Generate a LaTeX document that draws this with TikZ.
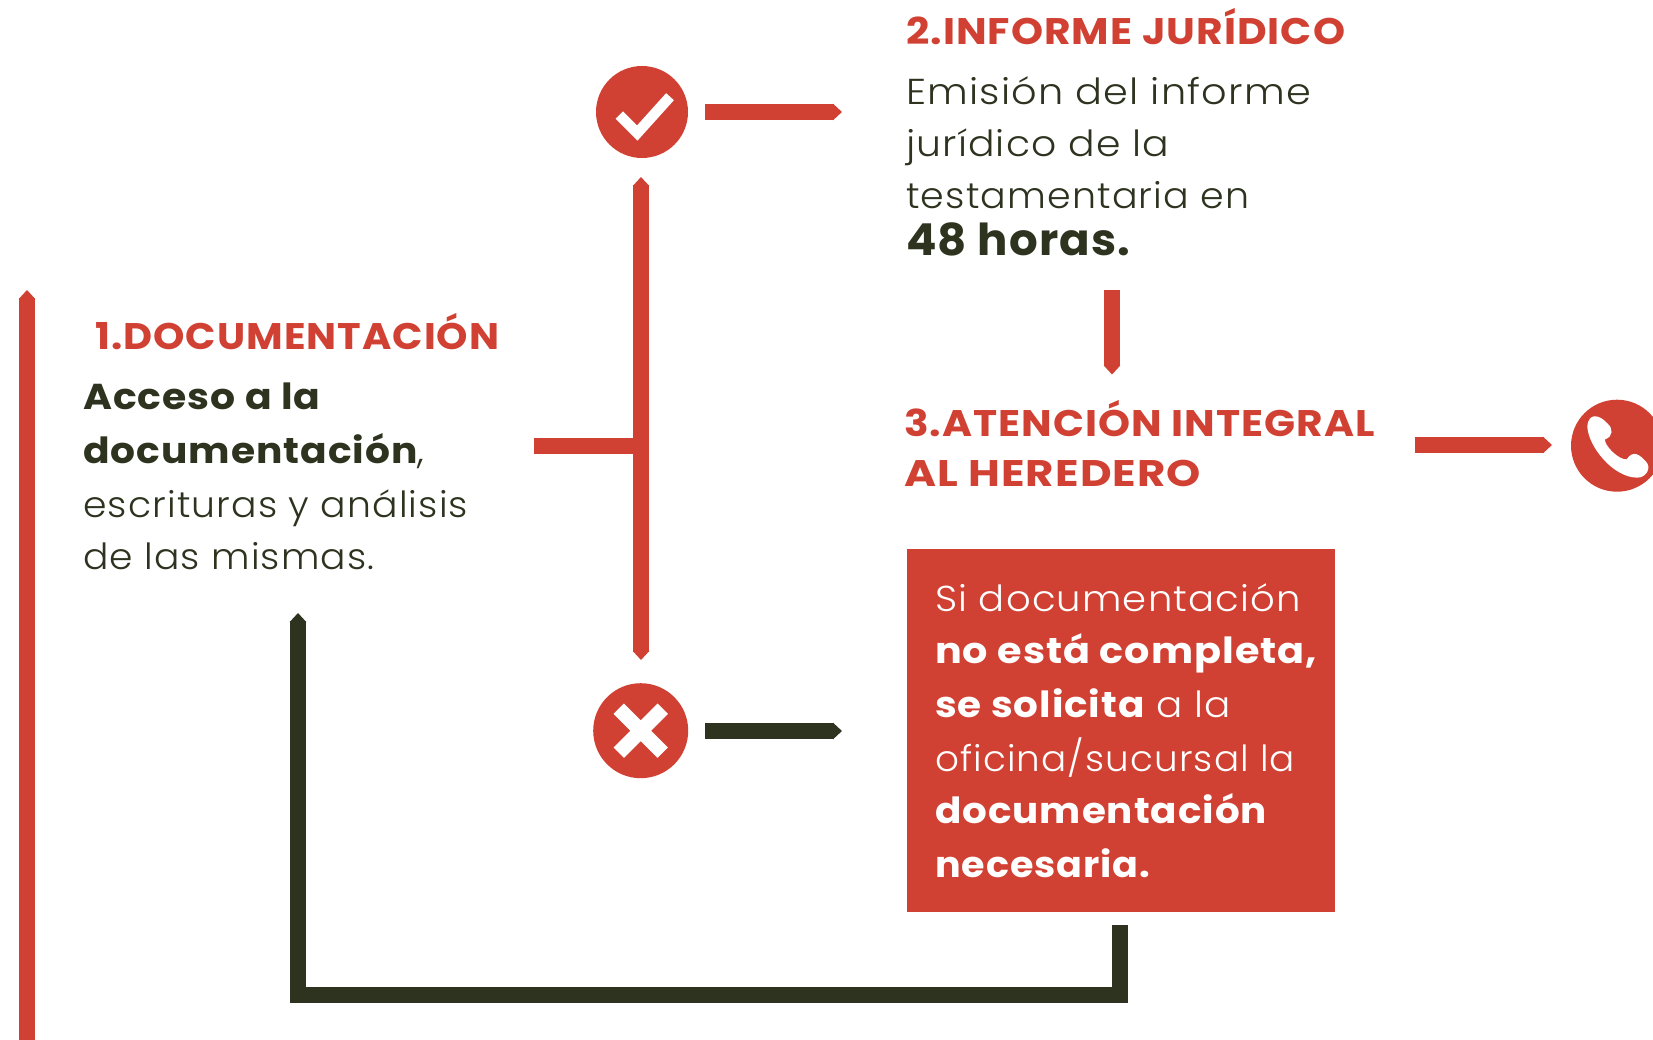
\documentclass[tikz,border=0pt]{standalone}
\usepackage{fontspec}
\usepackage{graphicx}
\usetikzlibrary{arrows.meta}
\setmainfont{Poppins}
\newfontfamily\plight{Poppins Light}[LetterSpace=3]
\newfontfamily\psemi{Poppins}[BoldFont=* Bold,LetterSpace=2.5]
\definecolor{brandred}{HTML}{D14133}
\definecolor{branddark}{HTML}{2D331F}
\tikzset{
  redbar/.style={draw=brandred,line width=16pt,line join=miter},
  darkbar/.style={draw=branddark,line width=16pt,line join=miter},
  tipend/.style={-{Triangle[length=9pt,width=16pt]}},
  tipboth/.style={{Triangle[length=9pt,width=16pt]}-{Triangle[length=9pt,width=16pt]}},
  dot/.style={circle,fill=brandred,draw=none,inner sep=0pt},
  ttl/.style={anchor=base west,inner sep=0pt,text=brandred,font=\psemi\bfseries\fontsize{37}{37}\selectfont},
  body/.style={anchor=base west,inner sep=0pt,text=branddark,font=\plight\fontsize{36}{36}\selectfont},
  bodyb/.style={anchor=base west,inner sep=0pt,text=branddark,font=\psemi\bfseries\fontsize{36}{36}\selectfont},
  wbody/.style={anchor=base west,inner sep=0pt,text=white,font=\plight\fontsize{36}{36}\selectfont},
  wbodyb/.style={anchor=base west,inner sep=0pt,text=white,font=\psemi\bfseries\fontsize{36}{36}\selectfont},
}
\newcommand{\bld}[1]{{\psemi\bfseries #1}}
\newcommand{\sx}[2]{\scalebox{#1}[1]{#2}}
\begin{document}
\begin{tikzpicture}[x=1pt,y=-1pt]
\useasboundingbox (0,0) rectangle (1653,1040);
\fill[white] (0,0) rectangle (1653,1040);
% circles
\node[dot,minimum size=92pt] (ok) at (642,112) {};
\node[dot,minimum size=95pt] (no) at (640.7,730.7) {};
\node[dot,minimum size=92pt] (tel) at (1617,445.7) {};
\draw[white,line width=10.5pt,line join=miter] (619.3,115) -- (637.3,133) -- (670,96.7);
\draw[white,line width=14.7pt] (618.7,708.7) -- (662.7,752.7) (662.7,708.7) -- (618.7,752.7);
\fill[white,shift={(1400,380)},x=0.3333pt,y=-0.3333pt]
  (562,140) .. controls (565,200) and (640,293) .. (712,293)
  .. controls (740,293) and (755,262) .. (738,245)
  .. controls (720,225) and (700,208) .. (680,238)
  .. controls (655,240) and (612,195) .. (615,178)
  .. controls (640,170) and (640,145) .. (622,130)
  .. controls (600,105) and (565,95) .. (562,140) -- cycle;
% box
\node[fill=brandred,inner sep=0pt,minimum width=428pt,minimum height=363pt,anchor=north west] (box) at (907,549) {};
% connector end points
\coordinate (a1) at (705,112);   \coordinate (a2) at (842,112);
\coordinate (b1) at (641,177);   \coordinate (b2) at (641,660);
\coordinate (c1) at (534,446);   \coordinate (c2) at (641,446);
\coordinate (d1) at (1112,290);  \coordinate (d2) at (1112,374.5);
\coordinate (e1) at (1415,445);  \coordinate (e2) at (1552,445);
\coordinate (f1) at (705,731);   \coordinate (f2) at (842,731);
\coordinate (g1) at (27,1045);   \coordinate (g2) at (27,290);
\coordinate (h1) at (1120,925);  \coordinate (h2) at (1120,995);
\coordinate (h3) at (298,995);   \coordinate (h4) at (298,613);
\draw[redbar,tipend] (a1) -- (a2);
\draw[redbar,tipboth] (b1) -- (b2);
\draw[redbar] (c1) -- (c2);
\draw[redbar,tipend] (d1) -- (d2);
\draw[redbar,tipend] (e1) -- (e2);
\draw[redbar,tipend] (g1) -- (g2);
\draw[darkbar,tipend] (f1) -- (f2);
\draw[darkbar,tipend] (h1) -- (h2) -- (h3) -- (h4);
% texts
\node[ttl] (t2) at (906,45) {\sx{1.103}{2.INFORME JURÍDICO}};
\node[body] (t2a) at (906,105) {\sx{1.107}{Emisión del informe}};
\node[body] (t2b) at (906,157) {\sx{1.092}{jurídico de la}};
\node[body] (t2c) at (906,209) {\sx{1.055}{testamentaria en}};
\node[bodyb,font=\psemi\bfseries\fontsize{44}{44}\selectfont] (t2d) at (906,256) {\sx{1.024}{48 horas.}};
\node[ttl] (t1) at (95,349) {\sx{1.079}{1.DOCUMENTACIÓN}};
\node[bodyb] (t1a) at (83,409) {\sx{1.092}{Acceso a la}};
\node[body] (t1b) at (83,463) {\sx{1.088}{\bld{documentación},}};
\node[body] (t1c) at (83,517) {\sx{1.049}{escrituras y análisis}};
\node[body] (t1d) at (83,569) {\sx{1.045}{de las mismas.}};
\node[ttl] (t3) at (904,436) {\sx{1.101}{3.ATENCIÓN INTEGRAL}};
\node[ttl] (t3b) at (904,486) {\sx{1.176}{AL HEREDERO}};
\node[wbody] (w1) at (935,611) {\sx{1.071}{Si documentación}};
\node[wbodyb] (w2) at (935,663) {\sx{1.104}{no está completa,}};
\node[wbody] (w3) at (935,717) {\sx{1.081}{\bld{se solicita} a la}};
\node[wbody] (w4) at (935,771) {\sx{1.037}{oficina/sucursal la}};
\node[wbodyb] (w5) at (935,823) {\sx{1.079}{documentación}};
\node[wbodyb] (w6) at (935,877) {\sx{1.057}{necesaria.}};
\end{tikzpicture}
\end{document}
